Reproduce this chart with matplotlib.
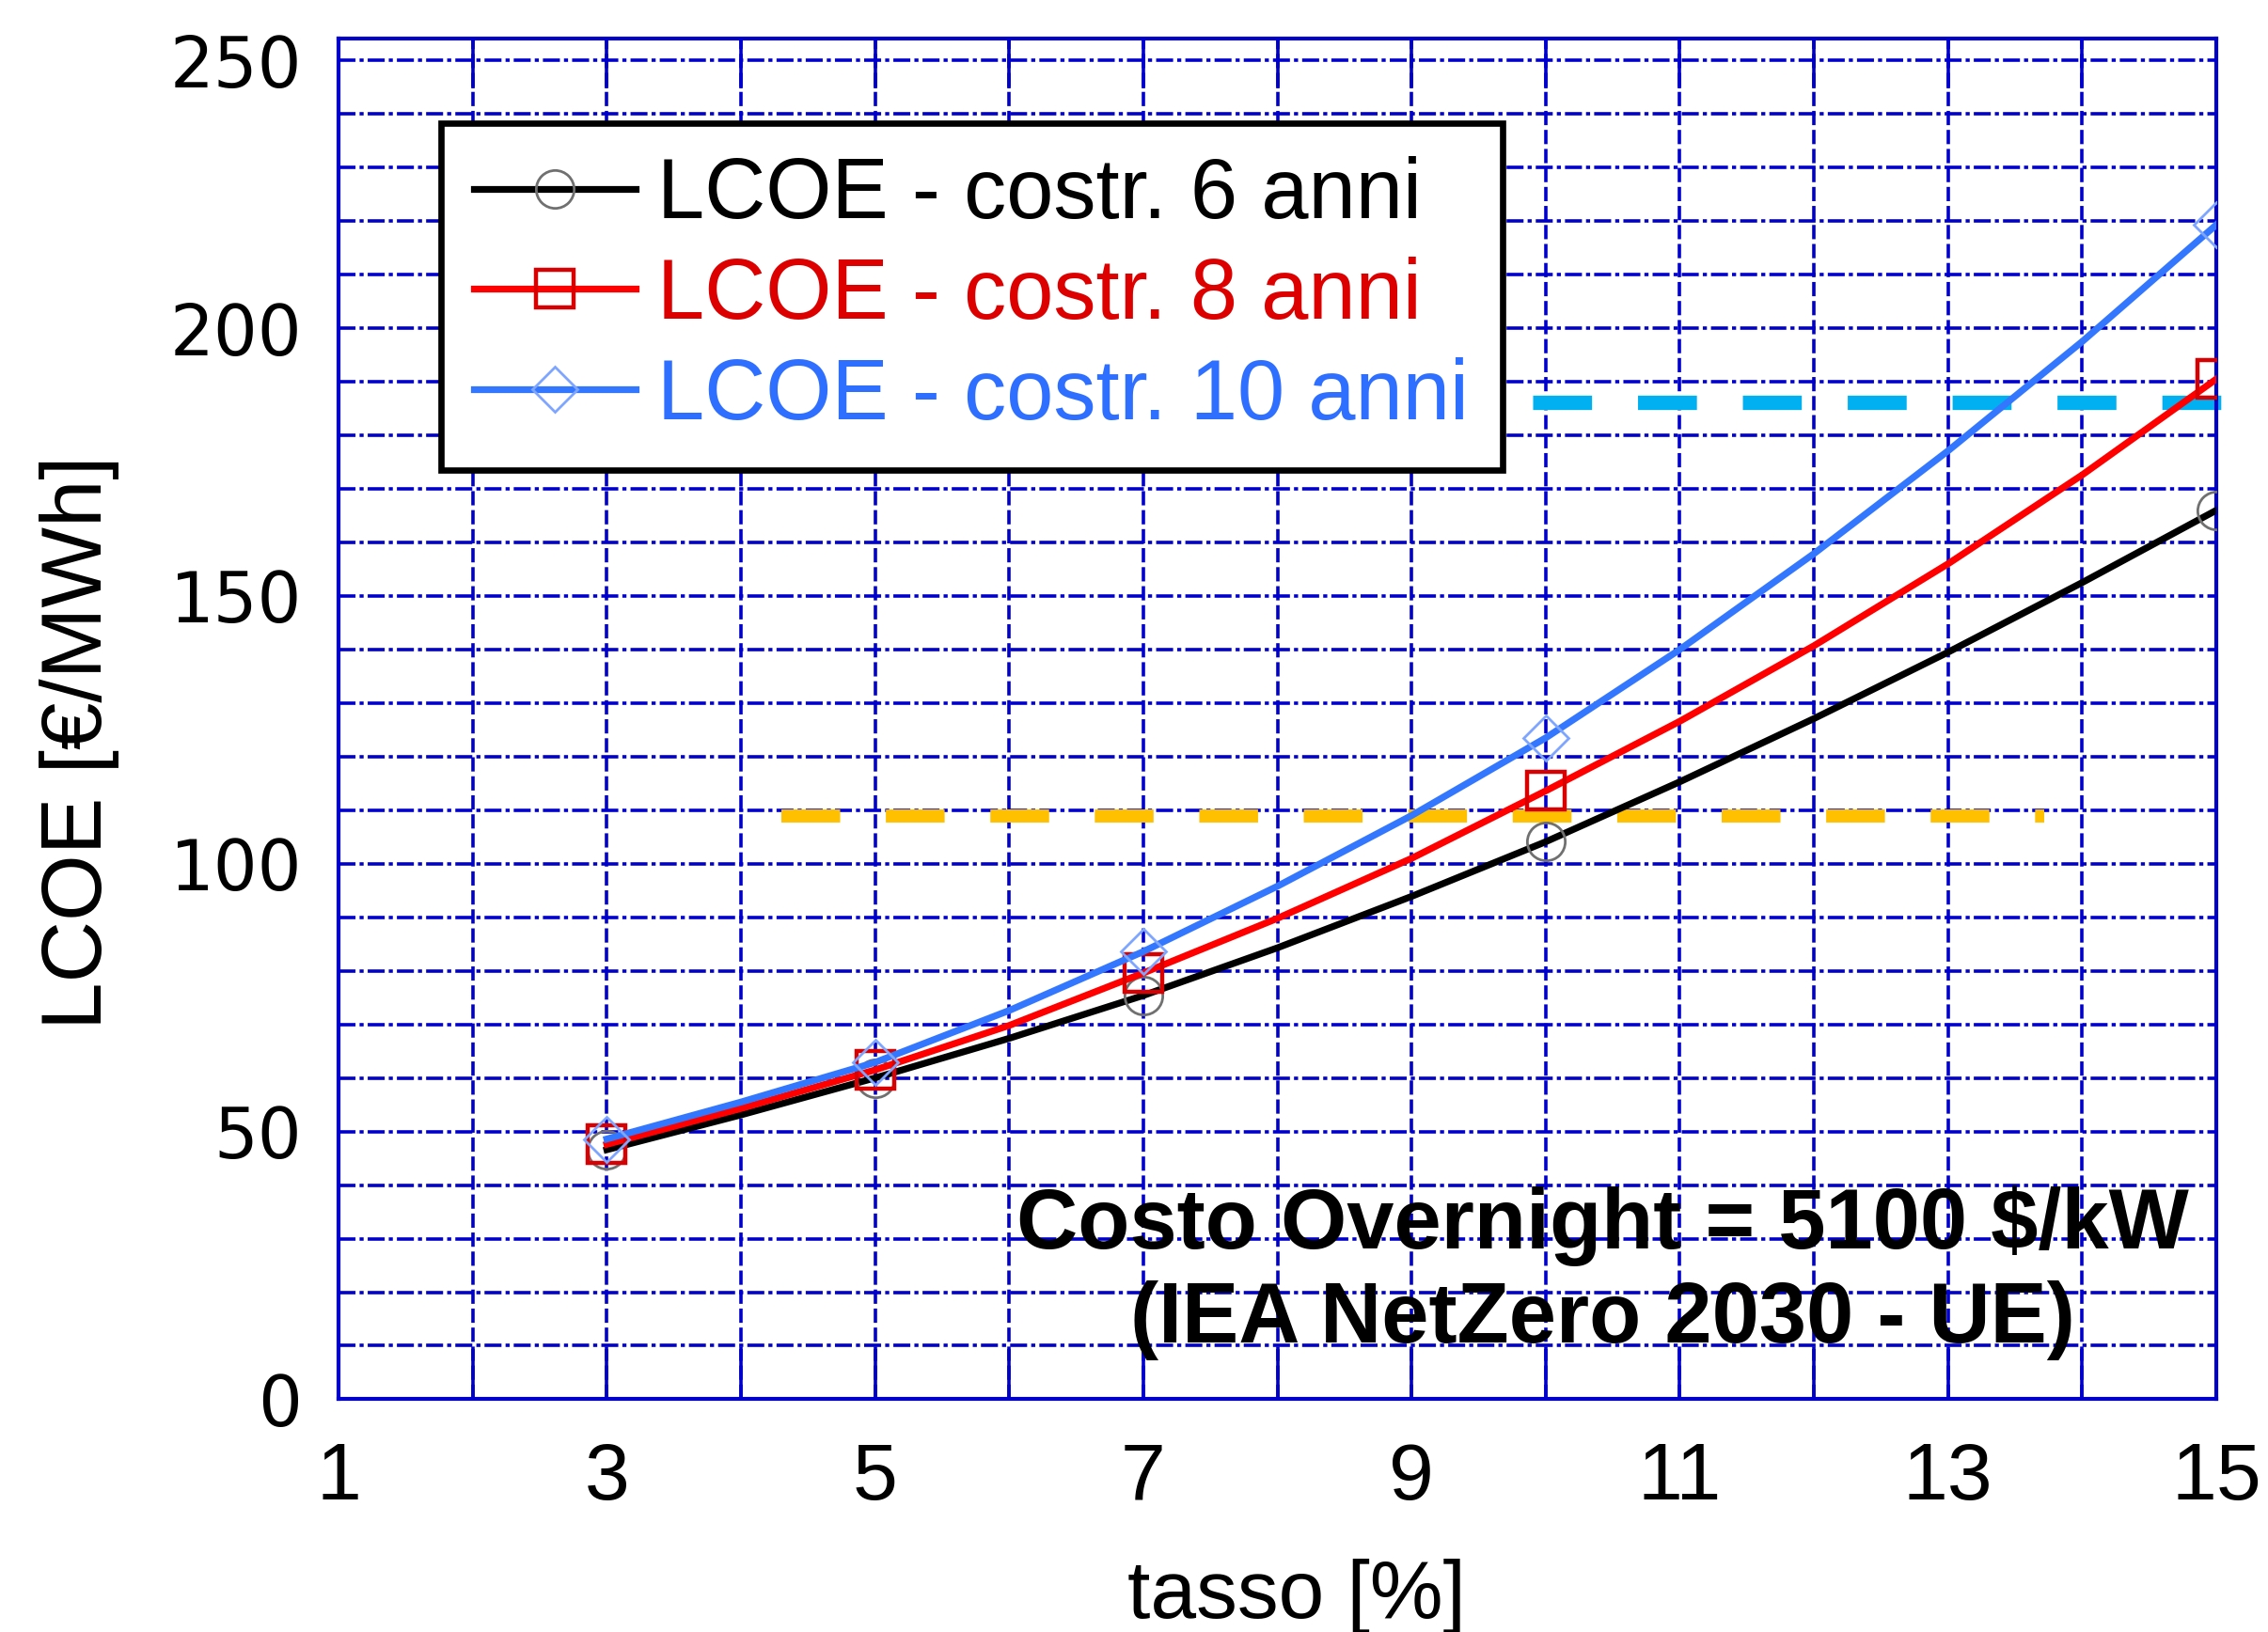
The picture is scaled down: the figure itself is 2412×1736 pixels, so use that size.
import matplotlib
matplotlib.use("Agg")
import matplotlib.pyplot as plt
from matplotlib.ticker import MultipleLocator

# ---------------- data ----------------
tasso = [3, 4, 5, 6, 7, 8, 9, 10, 11, 12, 13, 14, 15]
lcoe_6 = [46.6, 53.1, 60.0, 67.4, 75.4, 84.3, 93.9, 104.1, 115.3, 127.1, 139.5, 152.5, 166.0]
lcoe_8 = [47.6, 54.3, 61.5, 69.8, 79.6, 89.8, 101.0, 113.6, 126.6, 140.7, 156.0, 172.6, 190.5]
lcoe_10 = [48.6, 55.5, 62.9, 72.6, 83.6, 95.8, 109.0, 123.5, 140.0, 157.9, 177.1, 197.5, 219.3]
marker_idx = [0, 2, 4, 7, 12]          # markers at tasso = 3, 5, 7, 10, 15

labels = ["LCOE - costr. 6 anni", "LCOE - costr. 8 anni", "LCOE - costr. 10 anni"]

ref_yellow_y = 109.0
ref_yellow_x = [4.3, 13.72]
ref_cyan_y = 186.2
ref_cyan_x = [9.9, 15.07]

xticks = [1, 3, 5, 7, 9, 11, 13, 15]
yticks = [0, 50, 100, 150, 200, 250]
note = "Costo Overnight = 5100 $/kW\n(IEA NetZero 2030 - UE)"

# ---------------- figure ----------------
plt.rcParams["font.family"] = ["Liberation Sans", "DejaVu Sans"]
GRID = "#0000CD"

fig = plt.figure(figsize=(12.06, 8.68), dpi=200)
ax = fig.add_axes([0.1493, 0.1426, 0.9772 - 0.1493, 0.9761 - 0.1426])

ax.set_xlim(1, 15)
ax.set_ylim(0, 254)
ax.xaxis.set_major_locator(plt.FixedLocator(xticks))
ax.xaxis.set_minor_locator(MultipleLocator(1))
ax.yaxis.set_major_locator(plt.FixedLocator(yticks))
ax.yaxis.set_minor_locator(MultipleLocator(10))

# grid
ax.grid(True, which="both", axis="x", color=GRID, lw=1.3, linestyle=(0, (4.2, 1.4)))
ax.grid(True, which="both", axis="y", color=GRID, lw=1.3, linestyle=(0, (5, 1.2, 1.2, 1.2)))
ax.set_axisbelow(True)

for s in ax.spines.values():
    s.set_color(GRID)
    s.set_linewidth(1.5)

ax.tick_params(axis="x", which="both", direction="in", top=True, length=19, width=1.3,
               color=GRID, labelsize=31, pad=16)
ax.tick_params(axis="y", which="both", direction="in", right=False, length=0,
               labelsize=26.5, pad=14)
for lab in ax.get_yticklabels():
    lab.set_fontfamily("DejaVu Sans")

# reference lines
ax.plot(ref_yellow_x, [ref_yellow_y] * 2, color="#FFC000", lw=5, linestyle=(0, (4.5, 3.5)),
        dash_capstyle="butt", zorder=2)
ax.plot(ref_cyan_x, [ref_cyan_y] * 2, color="#00B0F0", lw=5.5, linestyle=(0, (4.1, 3.2)),
        dash_capstyle="butt", zorder=2, clip_on=False)

# series
ax.plot(tasso, lcoe_6, color="black", lw=2.6, marker="o", ms=14.5, mfc="none",
        mec="#707070", mew=1.0, markevery=marker_idx, label=labels[0], zorder=3)
ax.plot(tasso, lcoe_8, color="#FF0000", lw=2.6, marker="s", ms=14.5, mfc="none",
        mec="#D80000", mew=1.6, markevery=marker_idx, label=labels[1], zorder=4)
ax.plot(tasso, lcoe_10, color="#3377FF", lw=2.6, marker="D", ms=12, mfc="none",
        mec="#7FA6FF", mew=1.0, markevery=marker_idx, label=labels[2], zorder=5)

ax.set_xlabel("tasso [%]", fontsize=31.5, va="center")
ax.xaxis.set_label_coords(0.510, -0.145)
ax.set_ylabel("LCOE [€/MWh]", fontsize=32.7, va="center")
ax.yaxis.set_label_coords(-0.138, 0.483)

leg = ax.legend(loc="upper left", bbox_to_anchor=(0.0546, 0.938), fontsize=32.5,
                frameon=True, fancybox=False, edgecolor="black", framealpha=1,
                handlelength=1.9, handletextpad=0.26, borderpad=0.39, labelspacing=0.24,
                borderaxespad=0)
leg.get_frame().set_linewidth(2.4)
for t, c in zip(leg.get_texts(), ["black", "#DD0000", "#2F6FFF"]):
    t.set_color(c)
leg.set_zorder(10)

ax.text(0.673, 0.093, note, transform=ax.transAxes, ha="center", va="center",
        fontsize=32.5, fontweight="bold", linespacing=1.22, zorder=6)

fig.savefig("out.png", dpi=200)
